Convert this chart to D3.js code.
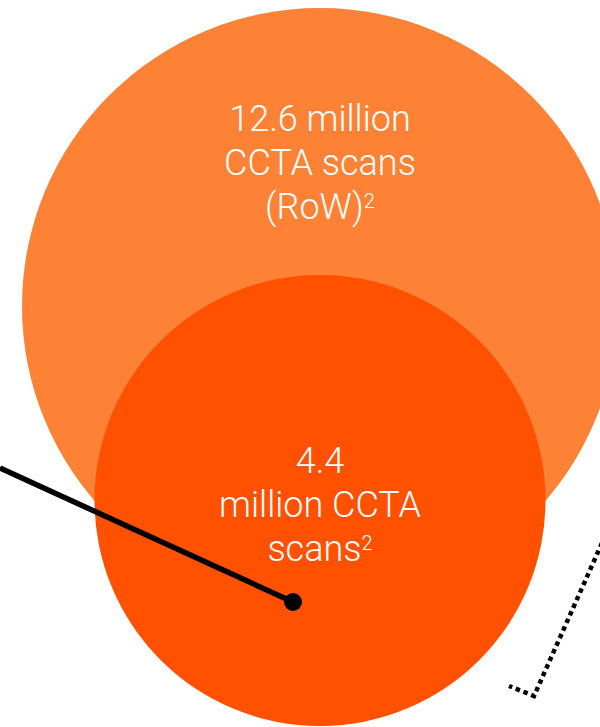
<!DOCTYPE html>
<html>
<head>
<meta charset="utf-8">
<script src="https://cdn.jsdelivr.net/npm/d3@7"></script>
<style>
  html, body { margin: 0; padding: 0; background: #fff; }
  svg { display: block; }
</style>
</head>
<body>
<svg id="chart"></svg>
<script>
// Data
const categories = ['RoW', 'Sub'];
const scanValues = [12.6, 4.4];
const labelLines = [
  [['12.6 million', ''], ['CCTA scans', ''], ['(RoW)', '2']],
  [['4.4', ''], ['million CCTA', ''], ['scans', '2']]
];
const colors = ['#FE8236', '#FF5100'];

const width = 600, height = 727;

const svg = d3.select('#chart')
  .attr('width', width)
  .attr('height', height);

// radius scale (linear, fitted to the picture)
const rScale = d3.scaleLinear()
  .domain([4.4, 12.6])
  .range([225.5, 298]);

const cx = 320;
const cy = d3.scaleOrdinal().domain(categories).range([306, 500.5]);

const circles = categories.map((c, i) => ({ key: c, value: scanValues[i], color: colors[i], lines: labelLines[i] }));

svg.selectAll('circle.bubble')
  .data(circles)
  .enter()
  .append('circle')
  .attr('class', 'bubble')
  .attr('cx', cx)
  .attr('cy', d => cy(d.key))
  .attr('r', d => rScale(d.value))
  .attr('fill', d => d.color);

// labels
const textTop = { RoW: 131, Sub: 473 };
const lineGap = 44;

circles.forEach(d => {
  const t = svg.append('text')
    .attr('text-anchor', 'middle')
    .attr('fill', '#fff')
    .style('font-family', 'Roboto, "Liberation Sans", sans-serif')
    .style('font-weight', 300)
    .style('font-size', '36px');

  d.lines.forEach((ln, j) => {
    t.append('tspan')
      .attr('x', cx)
      .attr('y', textTop[d.key] + j * lineGap)
      .text(ln[0]);
    if (ln[1]) {
      t.append('tspan')
        .attr('dy', -11)
        .style('font-size', '20px')
        .text(ln[1]);
    }
  });
});

// pointer line with dot
const pointer = [[0, 468], [293, 602]];
svg.append('path')
  .attr('d', d3.line()(pointer))
  .attr('stroke', '#000')
  .attr('stroke-width', 5.5)
  .attr('fill', 'none');
svg.append('circle')
  .attr('cx', pointer[1][0])
  .attr('cy', pointer[1][1])
  .attr('r', 9)
  .attr('fill', '#000');

// dotted bracket
const bracket = [[602, 543], [534, 696], [509, 686]];
svg.append('path')
  .attr('d', d3.line()(bracket))
  .attr('stroke', '#000')
  .attr('stroke-width', 4.5)
  .attr('stroke-dasharray', '4.5,3.8')
  .attr('fill', 'none');
</script>
</body>
</html>
